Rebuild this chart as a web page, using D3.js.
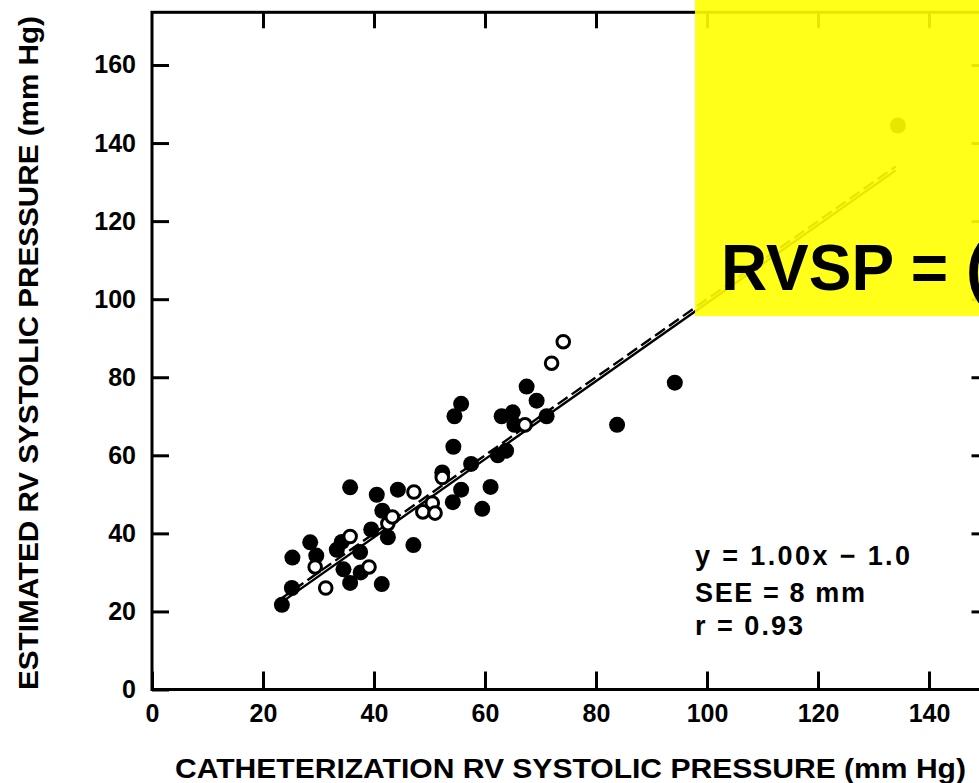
<!DOCTYPE html>
<html>
<head>
<meta charset="utf-8">
<script src="https://cdn.jsdelivr.net/npm/d3@7"></script>
<style>
  body { margin: 0; background: #fff; }
  svg { display: block; }
  text { font-family: "Liberation Sans", Arial, Helvetica, sans-serif; font-weight: bold; fill: #000; }
</style>
</head>
<body>
<script>
// catheterization RVSP (x) vs Doppler estimated RVSP (y), mm Hg
var filledX = [23.4, 25.2, 25.3, 28.5, 29.6, 33.3, 34.2, 34.5, 35.7, 35.7, 37.5, 37.6, 39.5, 40.5, 41.5, 41.4, 42.5, 44.3, 47.1,
               52.3, 54.2, 54.3, 54.5, 55.7, 55.7, 57.5, 59.5, 61.0, 62.3, 63.8, 63.0, 65.0, 65.3, 67.5, 69.3, 71.1, 83.8, 94.2, 134.4];
var filledY = [21.7, 26.0, 33.8, 37.7, 34.3, 35.8, 37.8, 30.8, 27.3, 51.8, 35.2, 30.0, 41.0, 49.9, 45.8, 27.0, 39.0, 51.2, 37.0,
               55.6, 48.0, 62.2, 70.0, 73.2, 51.2, 57.8, 46.3, 51.9, 60.0, 61.2, 70.0, 71.0, 67.8, 77.6, 74.0, 70.0, 67.8, 78.6, 144.5];
var openX = [31.3, 29.4, 35.7, 39.1, 42.5, 43.3, 47.2, 48.8, 50.5, 51.0, 52.3, 67.2, 72.0, 74.1];
var openY = [26.0, 31.4, 39.2, 31.4, 42.5, 44.2, 50.6, 45.5, 47.8, 45.2, 54.3, 67.8, 83.6, 89.1];

var xTicks = [0, 20, 40, 60, 80, 100, 120, 140];
var yTicks = [0, 20, 40, 60, 80, 100, 120, 140, 160];
var fitRange = [23, 134];
var fitText = ["y = 1.00x \u2212 1.0", "SEE = 8 mm", "r = 0.93"];
var xTitle = "CATHETERIZATION RV SYSTOLIC PRESSURE (mm Hg)";
var yTitle = "ESTIMATED RV SYSTOLIC PRESSURE (mm Hg)";
var boxText = "RVSP = (";

var W = 979, H = 783;
var x = d3.scaleLinear().domain([0, 150]).range([152, 984.5]);
var y = d3.scaleLinear().domain([0, 173.5]).range([689.5, 12.3]);

var svg = d3.select("body").append("svg").attr("width", W).attr("height", H);
svg.append("rect").attr("width", W).attr("height", H).attr("fill", "#fff");

var zip = function(xs, ys) { return xs.map(function(v, i) { return [v, ys[i]]; }); };

// regression (solid) and line of identity (dashed)
var line = d3.line().x(function(d) { return x(d[0]); }).y(function(d) { return y(d[1]); });
svg.append("path")
  .attr("d", line(fitRange.map(function(v) { return [v, v]; })))
  .attr("fill", "none").attr("stroke", "#000").attr("stroke-width", 2.4)
  .attr("stroke-dasharray", "12,5");
svg.append("path")
  .attr("d", line(fitRange.map(function(v) { return [v, 1.00 * v - 1.0]; })))
  .attr("fill", "none").attr("stroke", "#000").attr("stroke-width", 2.4);

svg.selectAll("circle.filled")
  .data(zip(filledX, filledY))
  .enter().append("circle").attr("class", "filled")
  .attr("cx", function(d) { return x(d[0]); })
  .attr("cy", function(d) { return y(d[1]); })
  .attr("r", 8).attr("fill", "#000");

svg.selectAll("circle.open")
  .data(zip(openX, openY))
  .enter().append("circle").attr("class", "open")
  .attr("cx", function(d) { return x(d[0]); })
  .attr("cy", function(d) { return y(d[1]); })
  .attr("r", 6.3).attr("fill", "#fff").attr("stroke", "#000").attr("stroke-width", 3);

// axes, ticks inside the frame
var styleAxis = function(g) {
  g.select(".domain").remove();
  g.selectAll(".tick line").attr("stroke", "#000").attr("stroke-width", 3);
  g.selectAll("text").attr("font-size", 25).attr("font-family", null).attr("fill", "#000");
};
svg.append("g").attr("transform", "translate(0," + y(0) + ")")
  .call(d3.axisBottom(x).tickValues(xTicks).tickSize(-18).tickPadding(15).tickFormat(d3.format("d")))
  .call(styleAxis);
svg.append("g").attr("transform", "translate(" + x(0) + ",0)")
  .call(d3.axisLeft(y).tickValues(yTicks).tickSize(-17).tickPadding(16).tickFormat(d3.format("d")))
  .call(styleAxis);
svg.append("g").attr("transform", "translate(0," + y(173.5) + ")")
  .call(d3.axisTop(x).tickValues(xTicks.slice(1)).tickSize(-16).tickFormat(""))
  .call(styleAxis);
svg.append("g").attr("transform", "translate(" + x(150) + ",0)")
  .call(d3.axisRight(y).tickValues(yTicks.slice(1)).tickSize(-13).tickFormat(""))
  .call(styleAxis);

svg.append("rect")
  .attr("x", x(0)).attr("y", y(173.5))
  .attr("width", x(150) - x(0)).attr("height", y(0) - y(173.5))
  .attr("fill", "none").attr("stroke", "#000").attr("stroke-width", 3);

svg.selectAll("text.fit")
  .data(fitText)
  .enter().append("text").attr("class", "fit")
  .attr("x", 695)
  .attr("y", function(d, i) { return [565, 602, 635][i]; })
  .attr("font-size", 27)
  .attr("textLength", function(d, i) { return [215, 170, 108][i]; })
  .attr("lengthAdjust", "spacing")
  .text(function(d) { return d; });

svg.append("text")
  .attr("x", (175 + 966) / 2).attr("y", 778)
  .attr("text-anchor", "middle").attr("font-size", 27)
  .attr("textLength", 791).attr("lengthAdjust", "spacingAndGlyphs")
  .text(xTitle);

svg.append("text")
  .attr("transform", "translate(38," + (16 + 690) / 2 + ") rotate(-90)")
  .attr("text-anchor", "middle").attr("font-size", 28)
  .attr("textLength", 674).attr("lengthAdjust", "spacingAndGlyphs")
  .text(yTitle);

// yellow overlay box
svg.append("rect")
  .attr("x", 695).attr("y", 0).attr("width", W - 695).attr("height", 316)
  .attr("fill", "#ffff00").attr("fill-opacity", 0.9);
svg.append("text")
  .attr("x", 721).attr("y", 290)
  .attr("font-size", 64)
  .text(boxText);
</script>
</body>
</html>
